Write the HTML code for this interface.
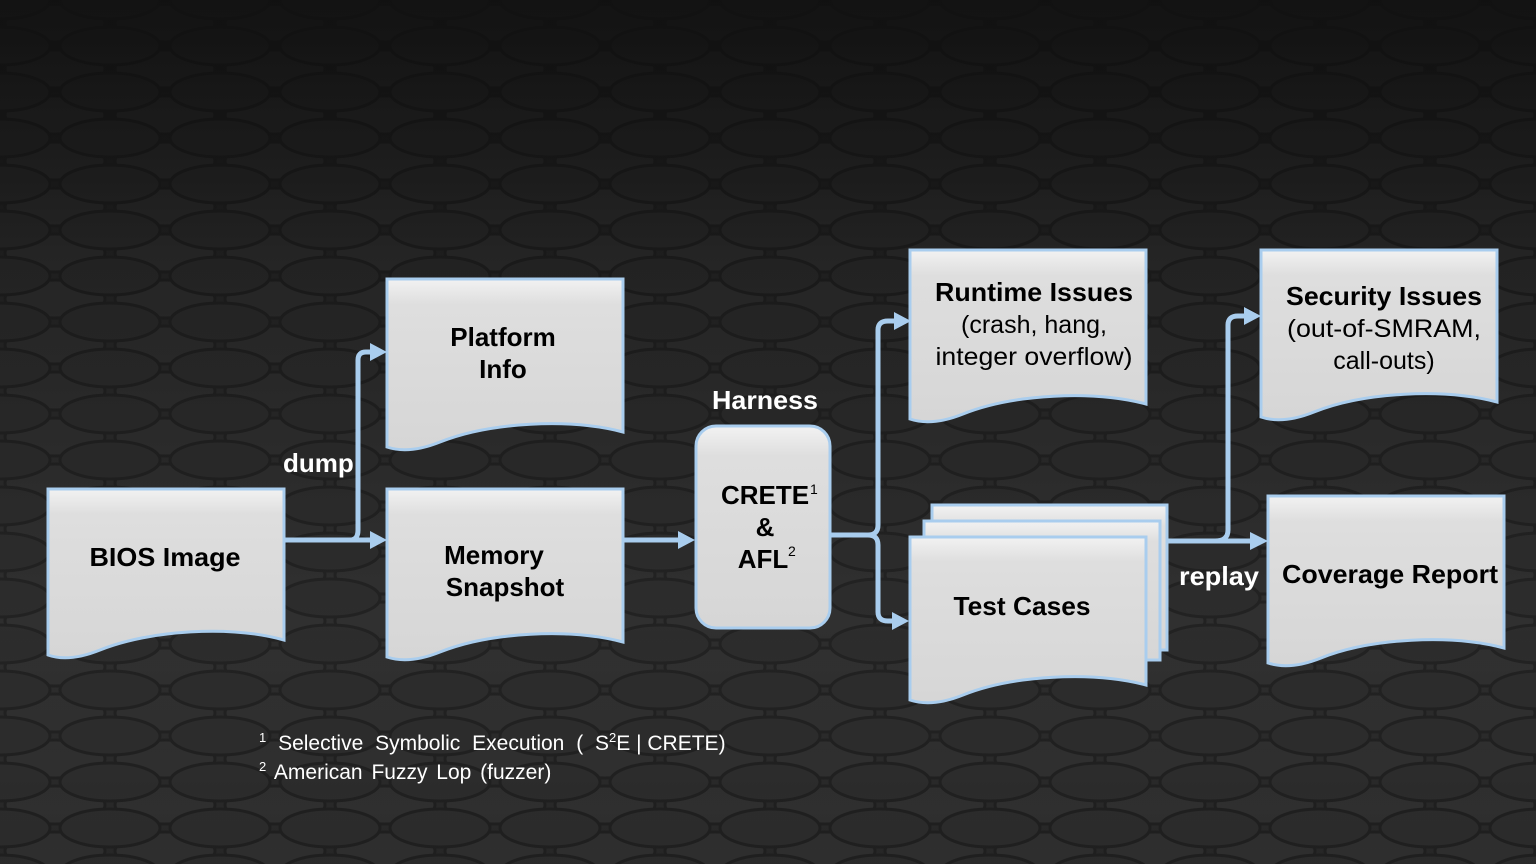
<!DOCTYPE html>
<html><head><meta charset="utf-8"><style>
html,body{margin:0;padding:0;background:#222;}
svg{display:block}
text{font-family:"Liberation Sans",Arial,sans-serif;}
</style></head><body>
<svg width="1536" height="864" viewBox="0 0 1536 864" xmlns="http://www.w3.org/2000/svg">
<defs>
<linearGradient id="bg" x1="0" y1="0" x2="0" y2="1">
<stop offset="0" stop-color="#121212"/>
<stop offset="0.35" stop-color="#2a2a2a"/>
<stop offset="0.7" stop-color="#383838"/>
<stop offset="1" stop-color="#2a2a2a"/>
</linearGradient>
<pattern id="ell" x="0" y="0" width="110" height="46" patternUnits="userSpaceOnUse">
<ellipse cx="55" cy="23" rx="50" ry="19" fill="#3c3c3c" stroke="#181818" stroke-width="3"/>
<ellipse cx="0" cy="0" rx="50" ry="19" fill="#343434" stroke="#181818" stroke-width="3"/>
<ellipse cx="110" cy="0" rx="50" ry="19" fill="#343434" stroke="#181818" stroke-width="3"/>
<ellipse cx="0" cy="46" rx="50" ry="19" fill="#343434" stroke="#181818" stroke-width="3"/>
<ellipse cx="110" cy="46" rx="50" ry="19" fill="#343434" stroke="#181818" stroke-width="3"/>
</pattern>
<linearGradient id="fade" x1="0" y1="0" x2="0" y2="1">
<stop offset="0" stop-color="#111" stop-opacity="0.9"/>
<stop offset="0.3" stop-color="#111" stop-opacity="0.4"/>
<stop offset="1" stop-color="#111" stop-opacity="0.15"/>
</linearGradient>
<linearGradient id="doc" x1="0" y1="0" x2="0" y2="1">
<stop offset="0" stop-color="#f2f2f2"/>
<stop offset="0.15" stop-color="#dedede"/>
<stop offset="1" stop-color="#d6d6d6"/>
</linearGradient>
</defs>
<rect width="1536" height="864" fill="url(#bg)"/>
<rect width="1536" height="864" fill="url(#ell)" opacity="0.5"/>
<rect width="1536" height="864" fill="url(#fade)"/>

<g stroke="#a9cdee" stroke-width="3" fill="url(#doc)">
<path d="M48 489 H284 V640 C230 625 150 630 100 650 C80 658 62 660 48 655 Z"/>
<path d="M387 279 H623 V432 C570 418 490 422 440 442 C420 450 402 452 387 447 Z"/>
<path d="M387 489 H623 V642 C570 628 490 632 440 652 C420 660 402 662 387 657 Z"/>
<path d="M910 250 H1146 V404 C1093 390 1013 394 963 414 C943 422 925 424 910 419 Z"/>
<path d="M1261 250 H1497 V402 C1444 388 1364 392 1314 412 C1294 420 1276 422 1261 417 Z"/>
<path d="M1268 496 H1504 V648 C1451 634 1371 638 1321 658 C1301 666 1283 668 1268 663 Z"/>
<path d="M932 505 H1167 V650 H932 Z"/>
<path d="M924 521 H1160 V660 H924 Z"/>
<path d="M910 537 H1146 V685 C1093 671 1013 675 963 695 C943 703 925 705 910 700 Z"/>
<rect x="696" y="426" width="134" height="202" rx="20" ry="20"/>
</g>

<g stroke="#a9cdee" stroke-width="5" fill="none">
<path d="M284 540 H372"/>
<path d="M350 540 Q358 540 358 530 V360 Q358 352 366 352 H372"/>
<path d="M623 540 H680"/>
<path d="M830 535 H868 Q878 535 878 525 V330 Q878 321 888 321 H896"/>
<path d="M868 535 Q878 535 878 545 V612 Q878 621 888 621 H894"/>
<path d="M1167 541 H1252"/>
<path d="M1215 541 Q1228 541 1228 530 V325 Q1228 316 1238 316 H1246"/>
</g>
<g fill="#a9cdee">
<polygon points="370,531 387,540 370,549"/>
<polygon points="370,343 387,352 370,361"/>
<polygon points="678,531 695,540 678,549"/>
<polygon points="894,312 911,321 894,330"/>
<polygon points="892,612 909,621 892,630"/>
<polygon points="1250,532 1268,541 1250,550"/>
<polygon points="1244,307 1261,316 1244,325"/>
</g>

<g font-weight="bold" font-size="26" fill="#000" text-anchor="middle">
<text x="165" y="566" textLength="151" lengthAdjust="spacingAndGlyphs">BIOS Image</text>
<text x="503" y="346">Platform</text>
<text x="503" y="378">Info</text>
<text x="494" y="564">Memory</text>
<text x="505" y="596">Snapshot</text>
<text x="1034" y="301" textLength="198" lengthAdjust="spacingAndGlyphs">Runtime Issues</text>
<text x="1384" y="305" textLength="196" lengthAdjust="spacingAndGlyphs">Security Issues</text>
<text x="1390" y="583" textLength="216" lengthAdjust="spacingAndGlyphs">Coverage Report</text>
<text x="1022" y="615" textLength="137" lengthAdjust="spacingAndGlyphs">Test Cases</text>
<text x="765" y="504">CRETE</text>
<text x="765" y="536">&amp;</text>
<text x="763" y="568">AFL</text>
</g>
<g font-size="14" fill="#000">
<text x="810" y="494">1</text>
<text x="788" y="556">2</text>
</g>
<g font-size="25" fill="#000" text-anchor="middle">
<text x="1034" y="333">(crash, hang,</text>
<text x="1034" y="365" textLength="197" lengthAdjust="spacingAndGlyphs">integer overflow)</text>
<text x="1384" y="337" textLength="194" lengthAdjust="spacingAndGlyphs">(out-of-SMRAM,</text>
<text x="1384" y="369">call-outs)</text>
</g>
<g font-weight="bold" font-size="26" fill="#fff">
<text x="283" y="472">dump</text>
<text x="712" y="409" textLength="106" lengthAdjust="spacingAndGlyphs">Harness</text>
<text x="1179" y="585" textLength="80" lengthAdjust="spacingAndGlyphs">replay</text>
</g>
<g font-size="21" fill="#fff">
<text x="259" y="750"><tspan font-size="13" dy="-8">1</tspan><tspan dy="8" word-spacing="6"> Selective Symbolic Execution ( S</tspan><tspan font-size="13" dy="-8">2</tspan><tspan dy="8">E | CRETE)</tspan></text>
<text x="259" y="779"><tspan font-size="13" dy="-8">2</tspan><tspan dy="8" word-spacing="3"> American Fuzzy Lop (fuzzer)</tspan></text>
</g>
</svg>
</body></html>
